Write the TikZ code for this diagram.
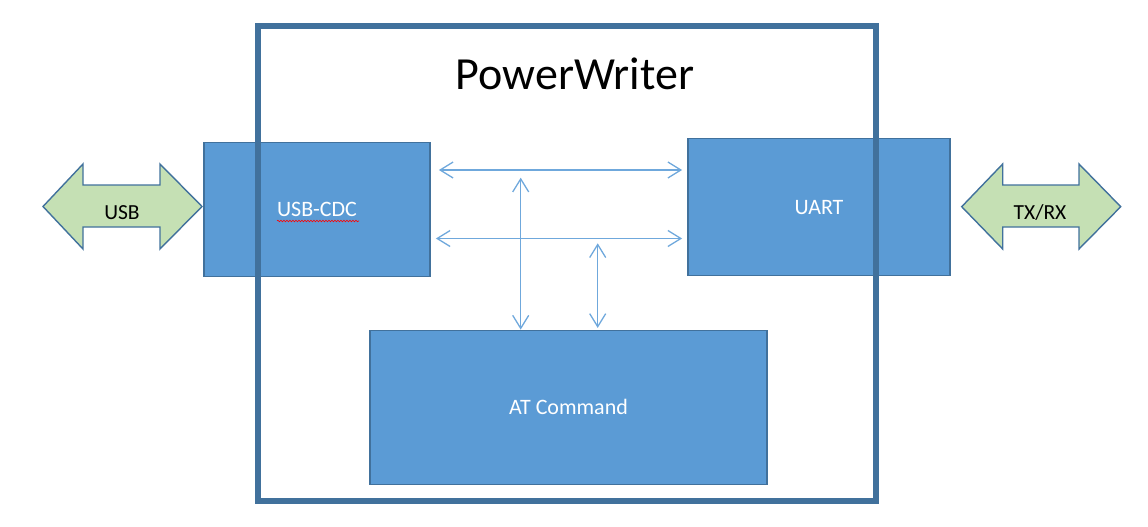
\documentclass[tikz,border=0pt]{standalone}
\usepackage{fontspec}
\setmainfont{Carlito}
\usetikzlibrary{arrows.meta,decorations.pathmorphing}
\definecolor{boxfill}{HTML}{5B9BD5}
\definecolor{boxline}{HTML}{41719C}
\definecolor{linkcol}{HTML}{6FA8DC}
\definecolor{greenfill}{HTML}{C5E0B4}
\tikzset{
  blockbox/.style={draw=boxline,fill=boxfill,line width=1.8pt,inner sep=0pt,
    text=white,font=\fontsize{22}{25}\selectfont,text height=14pt,text depth=0pt},
  frame/.style={draw=boxline,line width=6pt,inner sep=0pt},
  link/.style={draw=linkcol,line width=1.3pt,
    {Straight Barb[length=13pt,width=16pt,line width=1.3pt]}-{Straight Barb[length=13pt,width=16pt,line width=1.3pt]}},
  biarrow/.style={draw=boxline,fill=greenfill,line width=1.4pt,line join=miter},
  arrowlabel/.style={text=black,font=\fontsize{21.5}{24}\selectfont,inner sep=0pt,anchor=base},
  spellmark/.style={draw=red,line width=0.6pt,decorate,decoration={snake,amplitude=0.8pt,segment length=3pt}}
}
\begin{document}
\begin{tikzpicture}[x=1pt,y=-1pt]
\useasboundingbox (0,0) rectangle (1148,527);
% blocks
\node[blockbox,minimum width=226pt,minimum height=134pt] (cdc) at (317,209.5) {USB-CDC};
\node[blockbox,minimum width=262pt,minimum height=137pt] (uart) at (819,207) {UART};
\node[blockbox,minimum width=397pt,minimum height=154pt] (at) at (568.5,407.5) {AT Command};
% spell-check mark under USB-CDC
\coordinate (sm1) at (277,221);
\coordinate (sm2) at (359,221);
\draw[spellmark] (sm1) -- (sm2);
% connectors
\coordinate (h1) at (0,170);
\coordinate (h2) at (0,238.5);
\coordinate (v1) at (520.7,177.7);
\coordinate (v2) at (597.7,243.3);
\draw[link,shorten <=8pt,shorten >=5pt] (cdc.east |- h1) -- (uart.west |- h1);
\draw[link,shorten <=5pt,shorten >=5pt] (cdc.east |- h2) -- (uart.west |- h2);
\draw[link] (v1) -- (v1 |- at.north);
\draw[link,shorten >=1.7pt] (v2) -- (v2 |- at.north);
% outer frame
\node[frame,minimum width=618pt,minimum height=475pt] (pw) at (567,263.5) {};
\node[font=\fontsize{46}{50}\selectfont,anchor=base,inner sep=0pt] (title) at (575,89) {PowerWriter};
% USB double arrow
\draw[biarrow] (43,206.5) -- (83,164) -- (83,185) -- (160,185) -- (160,164) -- (202,206.5)
  -- (160,249) -- (160,227) -- (83,227) -- (83,249) -- cycle;
\node[arrowlabel] (usb) at (122,219) {USB};
% TX/RX double arrow
\draw[biarrow] (961.7,206.7) -- (1002.7,164) -- (1002.7,185) -- (1079,185) -- (1079,164) -- (1120.7,206.7)
  -- (1079,249) -- (1079,227) -- (1002.7,227) -- (1002.7,249) -- cycle;
\node[arrowlabel] (txrx) at (1040,219) {TX/RX};
\end{tikzpicture}
\end{document}
